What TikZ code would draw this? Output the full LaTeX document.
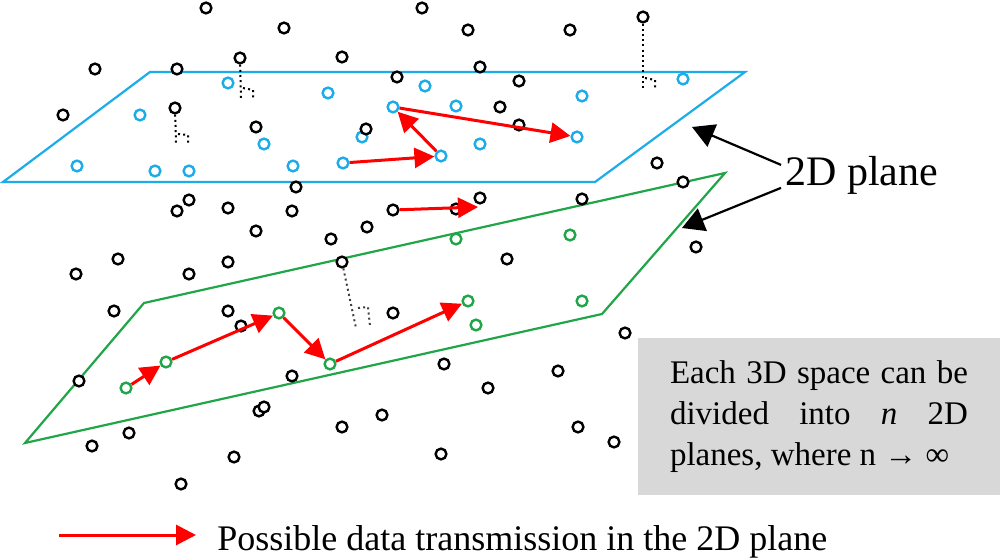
\documentclass[tikz,border=0pt]{standalone}
\usepackage{fontspec}
\setmainfont{Liberation Serif}
\usepackage{tikz}
\usetikzlibrary{arrows.meta}
\definecolor{skyline}{RGB}{28,172,232}
\definecolor{leafline}{RGB}{32,165,72}
\definecolor{notegray}{RGB}{216,216,216}
\newcommand{\ringw}{1.2pt}
\newcommand{\rings}{5.4pt}
\newcommand{\boxw}{149pt}
\tikzset{
    blk/.style={circle, draw=black, fill=white, line width=\ringw, minimum size=\rings, inner sep=0pt},
    sky/.style={blk, draw=skyline},
    lea/.style={blk, draw=leafline},
    hop/.style={draw=red, line width=1.5pt, -{Triangle[length=10pt,width=10pt]}},
    pointer/.style={draw=black, line width=1.1pt, -{Triangle[length=11pt,width=12pt]}},
    plumb/.style={line width=1pt, dash pattern=on 1pt off 1.6pt},
    notebox/.style={fill=notegray, minimum width=181pt, minimum height=78.5pt, inner sep=0pt}
}

\begin{document}
\begin{tikzpicture}[x=0.5pt,y=-0.5pt]
            \useasboundingbox (0,0) rectangle (1000,560);

            \draw[skyline, line width=1.1pt] (3,182) -- (150,72) -- (745,72) -- (595,182) -- cycle;
            \draw[leafline, line width=1.1pt] (25,443) -- (144,303) -- (725,173) -- (602,314) -- cycle;

            \node[sky] (u1) at (228,83) {};
            \node[sky] (u2) at (328,93) {};
            \node[sky] (u3) at (425,86) {};
            \node[sky] (u4) at (393,107) {};
            \node[sky] (u5) at (456,106) {};
            \node[sky] (u6) at (582,96) {};
            \node[sky] (u7) at (683,79) {};
            \node[sky] (u8) at (140,115) {};
            \node[sky] (u9) at (264,144) {};
            \node[sky] (u10) at (362,137) {};
            \node[sky] (u11) at (480,144) {};
            \node[sky] (u12) at (441,156) {};
            \node[sky] (u13) at (577,137) {};
            \node[sky] (u14) at (77,166) {};
            \node[sky] (u15) at (155,171) {};
            \node[sky] (u16) at (189,171) {};
            \node[sky] (u17) at (293,166) {};
            \node[sky] (u18) at (343,163) {};

            \node[lea] (g1) at (456,239) {};
            \node[lea] (g2) at (570,235) {};
            \node[lea] (g3) at (279,313) {};
            \node[lea] (g4) at (468,301) {};
            \node[lea] (g5) at (582,301) {};
            \node[lea] (g6) at (476,325) {};
            \node[lea] (g7) at (166,362) {};
            \node[lea] (g8) at (330,364) {};
            \node[lea] (g9) at (126,388) {};

            \node[blk] (b1) at (206,8) {};
            \node[blk] (b2) at (284,28) {};
            \node[blk] (b3) at (422,8) {};
            \node[blk] (b4) at (468,30) {};
            \node[blk] (b5) at (570,30) {};
            \node[blk] (b6) at (643,17) {};
            \node[blk] (b7) at (240,58) {};
            \node[blk] (b8) at (342,57) {};
            \node[blk] (b9) at (95,69) {};
            \node[blk] (b10) at (177,69) {};
            \node[blk] (b11) at (397,77) {};
            \node[blk] (b12) at (480,67) {};
            \node[blk] (b13) at (519,81) {};
            \node[blk] (b14) at (63,115) {};
            \node[blk] (b15) at (175,108) {};
            \node[blk] (b16) at (256,127) {};
            \node[blk] (b17) at (500,107) {};
            \node[blk] (b18) at (366,129) {};
            \node[blk] (b19) at (519,125) {};
            \node[blk] (b20) at (296,187) {};
            \node[blk] (b21) at (657,163) {};
            \node[blk] (b22) at (683,182) {};
            \node[blk] (b23) at (189,200) {};
            \node[blk] (b24) at (177,211) {};
            \node[blk] (b25) at (228,208) {};
            \node[blk] (b26) at (292,211) {};
            \node[blk] (b27) at (256,231) {};
            \node[blk] (b28) at (331,239) {};
            \node[blk] (b29) at (393,210) {};
            \node[blk] (b30) at (456,209) {};
            \node[blk] (b31) at (480,198) {};
            \node[blk] (b32) at (582,199) {};
            \node[blk] (b33) at (367,227) {};
            \node[blk] (b34) at (118,259) {};
            \node[blk] (b35) at (76,274) {};
            \node[blk] (b36) at (189,274) {};
            \node[blk] (b37) at (228,262) {};
            \node[blk] (b38) at (342,262) {};
            \node[blk] (b39) at (507,259) {};
            \node[blk] (b40) at (696,247) {};
            \node[blk] (b41) at (114,311) {};
            \node[blk] (b42) at (228,311) {};
            \node[blk] (b43) at (241,326) {};
            \node[blk] (b44) at (393,313) {};
            \node[blk] (b45) at (625,333) {};
            \node[blk] (b46) at (79,381) {};
            \node[blk] (b47) at (292,376) {};
            \node[blk] (b48) at (444,364) {};
            \node[blk] (b49) at (558,371) {};
            \node[blk] (b50) at (488,388) {};
            \node[blk] (b51) at (259,411) {};
            \node[blk] (b52) at (264,407) {};
            \node[blk] (b53) at (382,415) {};
            \node[blk] (b54) at (342,427) {};
            \node[blk] (b55) at (129,433) {};
            \node[blk] (b56) at (92,446) {};
            \node[blk] (b57) at (234,457) {};
            \node[blk] (b58) at (441,454) {};
            \node[blk] (b59) at (578,427) {};
            \node[blk] (b60) at (614,442) {};
            \node[blk] (b61) at (181,484) {};

            \coordinate (f1) at (643,90);
            \coordinate (f2) at (241,98);
            \coordinate (f3) at (176,143);
            \coordinate (f4) at (356,328);
            \draw[plumb] (b6) -- (f1);
            \draw[plumb] (b7) -- (f2);
            \draw[plumb] (b15) -- (f3);
            \draw[plumb, black!75] (b38) -- (f4);
            \draw[plumb] (f1) ++(2,-12) -- ++(10,2) -- ++(0,10);
            \draw[plumb] (f2) ++(2,-10) -- ++(10,2) -- ++(0,9);
            \draw[plumb] (f3) ++(2,-9) -- ++(10,1) -- ++(0,8);
            \draw[plumb, black!75] (f4) ++(2,-20) -- ++(10,-1) -- ++(2,19);

            \coordinate (t1) at (478,207);
            \draw[hop] (u18) -- (u12);
            \draw[hop] (u12) -- (u4);
            \draw[hop] (u4) -- (u13);
            \draw[hop] (b29) -- (t1);
            \draw[hop] (g9) -- (g7);
            \draw[hop] (g7) -- (g3);
            \draw[hop] (g3) -- (g8);
            \draw[hop] (g8) -- (g4);

            \node[font=\fontsize{21}{25}\selectfont, anchor=base west, inner sep=2pt] (lbl) at (781,186) {2D plane};
            \coordinate (pu) at (692,127);
            \coordinate (pl) at (682,228);
            \draw[pointer] ([yshift=5.5pt]lbl.west) -- (pu);
            \draw[pointer] ([yshift=-6pt]lbl.west) -- (pl);

            \node[notebox] (note) at (819,416.5) {\fontsize{16.5}{20.5}\selectfont\parbox{\boxw}{\makebox[\boxw][s]{Each 3D space can be}\\\makebox[\boxw][s]{divided into \textit{n} 2D}\\planes, where n → ∞}};

            \coordinate (la) at (59,535);
            \coordinate (lb) at (196,535);
            \draw[hop] (la) -- (lb);
            \node[font=\fontsize{18}{22}\selectfont, anchor=base west, inner sep=0pt] (leg) at (217,550) {Possible data transmission in the 2D plane};
\end{tikzpicture}
\end{document}
